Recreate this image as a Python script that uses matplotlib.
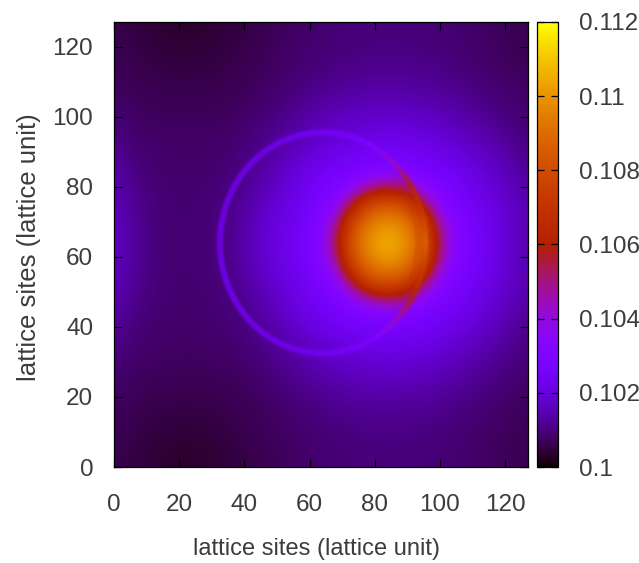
import numpy as np
import matplotlib
matplotlib.use("Agg")
import matplotlib.pyplot as plt
from matplotlib.colors import ListedColormap, Normalize
from matplotlib.collections import LineCollection

plt.rcParams['font.family'] = ['Liberation Sans', 'DejaVu Sans']

# Field values: percent of the colour range above 0.1,
# sampled every 4 lattice sites; rows y = 0, 4, ... 64 (the picture mirrors about y = 64).
grid_x = np.arange(0, 129, 4)
grid_y_lower = np.arange(0, 65, 4)
field_lower = [
 [5.1,4.5,4.1,3.6,3.2,3,3,3.2,3.6,4.1,4.5,5,5.5,6,6.5,6.9,7.2,7.5,7.7,7.9,8,8.1,8,7.9,7.7,7.5,7.2,6.9,6.5,6.1,5.7,5.4,5.1],
 [5.2,4.6,4.1,3.7,3.3,3.1,3.1,3.3,3.7,4.1,4.6,5.1,5.6,6.1,6.6,7,7.4,7.7,7.9,8.1,8.2,8.3,8.2,8.1,7.9,7.7,7.4,7,6.6,6.2,5.8,5.5,5.2],
 [5.4,4.9,4.4,4,3.7,3.5,3.5,3.7,4,4.4,4.9,5.3,5.8,6.3,6.8,7.2,7.6,7.9,8.2,8.4,8.6,8.6,8.6,8.4,8.2,7.9,7.6,7.2,6.8,6.3,5.9,5.5,5.3],
 [5.6,5.2,4.8,4.4,4.1,4,4,4.1,4.4,4.8,5.2,5.6,6.1,6.6,7.1,7.6,8,8.4,8.7,9,9.1,9.2,9.1,9,8.7,8.4,8,7.6,7.1,6.6,6.2,5.8,5.5],
 [5.9,5.5,5.1,4.8,4.6,4.5,4.5,4.6,4.8,5.1,5.5,5.9,6.4,7,7.6,8.1,8.7,9.2,9.6,9.8,10,10,10,9.8,9.6,9.2,8.7,8.1,7.6,7,6.5,6.2,5.9],
 [6.3,5.9,5.5,5.2,5,5,5,5,5.2,5.5,5.9,6.3,6.9,7.5,8.3,9,9.7,10.2,10.7,11,11.2,11.3,11.2,11,10.7,10.2,9.7,9,8.3,7.6,7,6.6,6.2],
 [6.9,6.3,5.9,5.7,5.5,5.5,5.5,5.5,5.7,5.9,6.3,6.8,7.5,8.3,9.2,10.2,11,11.6,12.2,12.6,12.9,13,12.9,12.6,12.2,11.6,11,10.2,9.3,8.5,7.7,7.2,6.7],
 [7.6,6.8,6.3,6.1,6,6,6,6,6.1,6.3,6.8,7.4,8.1,9.2,10.3,11.5,12.3,13.2,13.8,14.3,14.7,14.8,14.7,14.3,13.8,13.2,12.3,11.5,10.5,9.5,8.5,7.8,7.3],
 [8.6,7.4,6.8,6.5,6.4,6.3,6.3,6.4,6.5,6.8,7.4,8.1,9.2,10.4,11.5,13,14,15,15.8,16.3,16.7,17,16.7,16.3,15.8,15,14,13,12,10.8,9.5,8.5,7.8],
 [9.6,8.1,7.2,6.9,6.7,6.6,6.6,6.7,6.9,7.2,7.9,8.9,10.2,11.5,13,14.5,16,17,18,18.8,19.2,19.5,19.2,18.8,18,17,16,14.5,13.5,12,10.8,9.5,8.5],
 [10.6,8.9,7.7,7.2,6.9,6.8,6.8,6.9,7.2,7.7,8.5,9.8,11.2,13,15,16.5,18,19.5,20.5,21.5,22,22.5,22,21.5,20.5,19.5,18,16.5,15,13.5,12,10.5,9.2],
 [11.6,9.7,8.2,7.5,7.1,7,7,7.1,7.5,8.1,9.2,10.7,12.5,14.5,16.5,18.5,20,21.5,23,24.5,25.5,26,25.5,24.5,23,21.5,20,18.5,16.5,15,13,11.5,10],
 [12.5,10.4,8.8,7.8,7.3,7.1,7.1,7.3,7.8,8.6,9.9,11.6,13.5,15.5,17.5,20,22,24,28,33,42,45,42,33,28,24,22,20,18,16,14,12.5,11],
 [13,11,9.3,8,7.4,7.2,7.2,7.4,8,9,10.6,12.5,14.5,16.5,18.5,21,23.5,27,38,56,63,65,63,56,38,27,23.5,21,19,17,15,13,11.5],
 [13.5,11.2,9.5,8.2,7.5,7.2,7.2,7.5,8.2,9.3,11,13.5,15.5,17.5,19.5,22,26,33,56,67,75,77,75,67,56,33,26,23,20.5,18,15.5,13.5,12],
 [14,11.6,9.7,8.3,7.6,7.3,7.3,7.6,8.3,9.5,11.5,14,16,18,20,23,28,42,63,75,82,85,82,75,63,42,28,23.5,21,18.5,16,13.5,11.5],
 [14,11.6,9.7,8.3,7.6,7.3,7.3,7.6,8.3,9.5,11.5,14,16,18,20.5,23,28,45,65,77,85,88,85,77,65,45,28,24,21,18.5,16,13.5,11.5],
]

# Ring
ring_center = (64, 64)
ring_radius = 31.5
ring_angles_deg = [0,15,30,45,60,75,90,105,120,135,150,165,180,195,210,225,240,255,270,285,300,315,330,345,360]
ring_levels = [74,62,52,35,26,24,23,22,22,22,22,22,22,22,22,22,22,22,23,24,26,35,52,62,74]
# Inner streak on the right side of the ring
streak_radius = 29
streak_angles_deg = [-45,-30,-15,0,15,30,45]
streak_levels = [30,52,66,70,66,52,30]

colorbar_ticks = [0.1,0.102,0.104,0.106,0.108,0.11,0.112]
colorbar_labels = ['0.1','0.102','0.104','0.106','0.108','0.11','0.112']
x_ticks = [0,20,40,60,80,100,120]
y_ticks = [0,20,40,60,80,100,120]
x_label = 'lattice sites (lattice unit)'
y_label = 'lattice sites (lattice unit)'
TEXT = '#3c3c3c'

lower = np.array(field_lower)
field = 0.1 + 0.012 * np.vstack([lower, lower[-2::-1]]) / 100

# gnuplot default pm3d palette
t = np.linspace(0, 1, 512)
palette = ListedColormap(np.c_[np.sqrt(t), t**3, np.clip(np.sin(2*np.pi*t), 0, 1)])
norm = Normalize(0.1, 0.112)

W, H = 639, 563
fig = plt.figure(figsize=(W/100, H/100), dpi=100)
ax = fig.add_axes([114/W, 1-467/H, 414/W, 445/H])
im = ax.imshow(field, origin='lower', extent=(-2, 130, -2, 130), cmap=palette, norm=norm,
               interpolation='bicubic', interpolation_stage='data', aspect='auto')


def draw_arc(radius, angles, lvls, layers):
    deg = np.linspace(angles[0], angles[-1], int(angles[-1] - angles[0]) + 1)
    theta = np.deg2rad(deg)
    lv = np.interp(deg, angles, lvls)
    pts = np.c_[ring_center[0] + radius*np.cos(theta), ring_center[1] + radius*np.sin(theta)]
    segs = np.stack([pts[:-1], pts[1:]], axis=1)
    for lw, alpha in layers:
        lc = LineCollection(segs, cmap=palette, norm=norm, linewidths=lw, alpha=alpha, capstyle='butt')
        lc.set_array(0.1 + 0.012*lv[:-1]/100)
        ax.add_collection(lc)


draw_arc(ring_radius, ring_angles_deg, ring_levels, [(6.0, 0.25), (4.5, 0.35), (3.0, 0.5)])
draw_arc(streak_radius, streak_angles_deg, streak_levels, [(3.5, 0.25), (2.0, 0.35)])

ax.set_xlim(0, 127); ax.set_ylim(0, 127)
ax.set_xticks(x_ticks); ax.set_yticks(y_ticks)
ax.tick_params(direction='in', length=5.8, width=0.9, top=True, right=True, color='black',
               labelsize=17.5, labelcolor=TEXT)
ax.tick_params(axis='x', pad=19.5)
ax.tick_params(axis='y', pad=15)
for s in ax.spines.values():
    s.set_linewidth(0.9)
ax.set_xlabel(x_label, fontsize=17, color=TEXT, labelpad=16, x=0.49)
ax.set_ylabel(y_label, fontsize=18.5, color=TEXT, labelpad=8, y=0.495)

cax = fig.add_axes([537/W, 1-467/H, 21/W, 445/H])
cb = fig.colorbar(im, cax=cax)
cb.set_ticks(colorbar_ticks, labels=colorbar_labels)
cax.tick_params(direction='in', length=5, width=0.9, left=True, right=True, labelsize=17.5,
                labelcolor=TEXT, pad=15)
cb.outline.set_linewidth(0.9)

fig.savefig('out.png', dpi=100)
